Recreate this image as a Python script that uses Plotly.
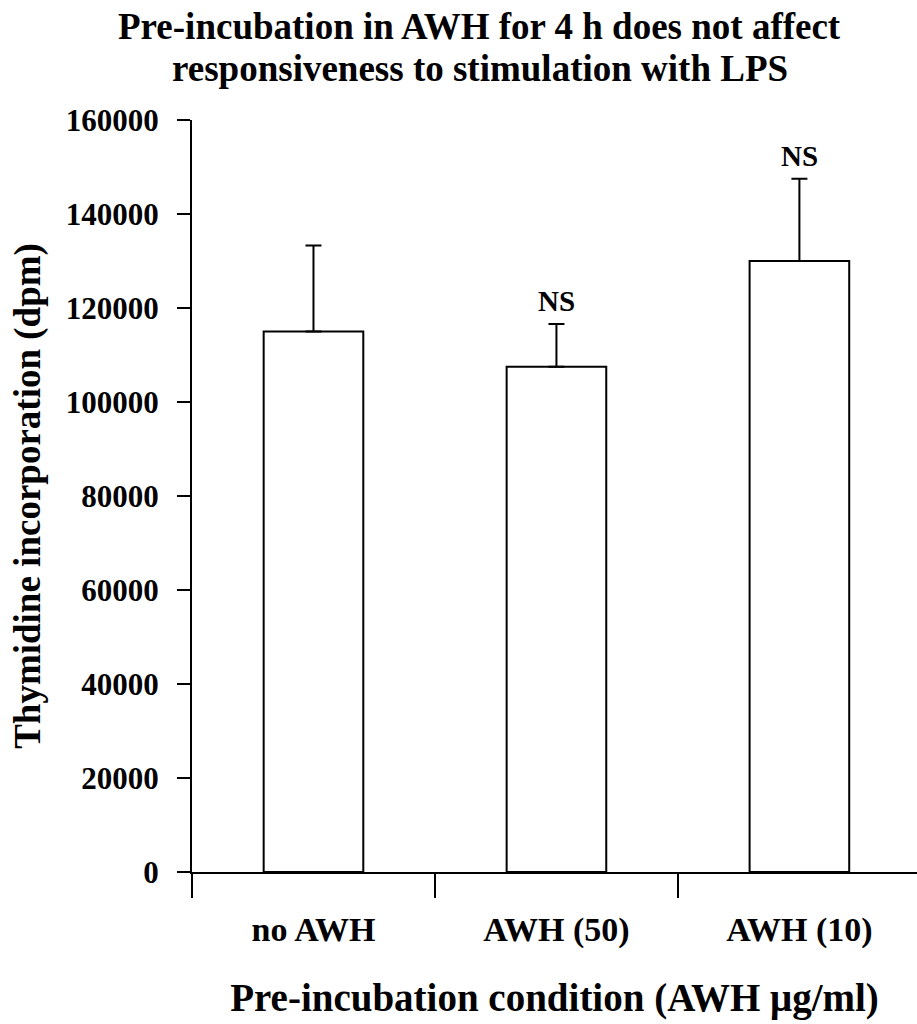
import plotly.graph_objects as go

# Thymidine incorporation after 4 h pre-incubation, then LPS stimulation
conditions = ["no AWH", "AWH (50)", "AWH (10)"]
mean_dpm = [115000, 107500, 130000]
sem_dpm = [18300, 9100, 17500]
significance = ["", "NS", "NS"]
title_lines = ["Pre-incubation in AWH for 4 h does not affect",
               "responsiveness to stimulation with LPS"]

FONT = "Liberation Serif, Times New Roman, serif"

fig = go.Figure()
fig.add_trace(go.Bar(
    x=conditions,
    y=mean_dpm,
    width=0.41,
    marker=dict(color="white", line=dict(color="black", width=2)),
    error_y=dict(type="data", symmetric=False, array=sem_dpm,
                 arrayminus=[0] * len(sem_dpm),
                 color="black", thickness=2, width=8),
    showlegend=False,
))

# significance labels above the error bar caps
for cond, m, s, lab in zip(conditions, mean_dpm, sem_dpm, significance):
    if lab:
        fig.add_annotation(x=cond, y=m + s, xref="x", yref="y",
                           text=f"<b>{lab}</b>", showarrow=False,
                           yshift=23, font=dict(family=FONT, size=29, color="black"))

# two-line heading, placed line by line for tighter spacing
for txt, yp in zip(title_lines, [1.1237, 1.0691]):
    fig.add_annotation(x=0.397, y=yp, xref="paper", yref="paper",
                       text=f"<b>{txt}</b>", showarrow=False,
                       xanchor="center", yanchor="middle",
                       font=dict(family=FONT, size=37, color="black"))

fig.update_layout(
    width=917, height=1024,
    margin=dict(l=192, r=0, t=120, b=152),
    paper_bgcolor="white", plot_bgcolor="white",
    font=dict(family=FONT, color="black"),
    bargap=0.59,
)

fig.update_xaxes(
    range=[-0.5, 2.484],
    showline=True, linecolor="black", linewidth=2,
    ticks="outside", tickson="boundaries", ticklen=24, tickwidth=2, tickcolor="black",
    ticklabelstandoff=26,
    tickfont=dict(family=FONT, size=34, color="black"),
    tickprefix="<b>", ticksuffix="</b>",
    showgrid=False, zeroline=False,
    title=dict(text="<b>Pre-incubation condition (AWH μg/ml)</b>",
               font=dict(family=FONT, size=39, color="black"), standoff=36),
)

fig.update_yaxes(
    range=[0, 160000], dtick=20000, tick0=0,
    tickformat="d",
    showline=True, linecolor="black", linewidth=2,
    ticks="outside", ticklen=13, tickwidth=2, tickcolor="black",
    ticklabelstandoff=12,
    tickfont=dict(family=FONT, size=31, color="black"),
    tickprefix="<b>", ticksuffix="</b>",
    showgrid=False, zeroline=False,
    title=dict(text="<b>Thymidine incorporation (dpm)</b>",
               font=dict(family=FONT, size=37, color="black"), standoff=14),
)

fig.write_html("out.html")
